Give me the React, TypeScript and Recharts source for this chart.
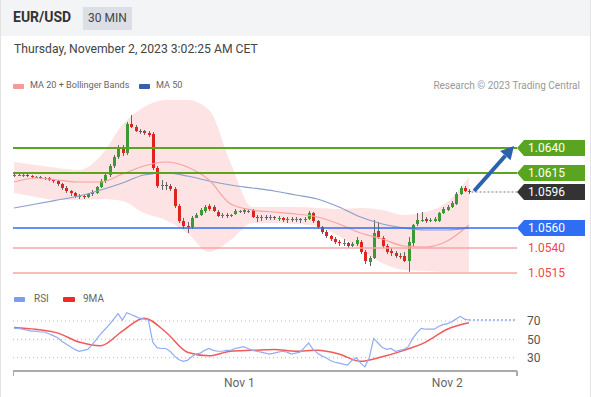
import React from 'react';
import { ComposedChart, Bar, Line, Area, XAxis, YAxis, ReferenceLine } from 'recharts';

// 30 min candles, index 0 .. 105
const candleOpen = [
  1.0613, 1.0613, 1.0613, 1.0613, 1.0612, 1.0611, 1.0611, 1.0610, 1.0610, 1.0608,
  1.0607, 1.0604, 1.0600, 1.0597, 1.0595, 1.0592, 1.0592, 1.0591, 1.0594, 1.0595,
  1.0601, 1.0607, 1.0613, 1.0622, 1.0631, 1.0640, 1.0635, 1.0664, 1.0661, 1.0657,
  1.0657, 1.0655, 1.0654, 1.0620, 1.0602, 1.0603, 1.0602, 1.0599, 1.0582, 1.0567,
  1.0562, 1.0561, 1.0570, 1.0573, 1.0577, 1.0582, 1.0581, 1.0576, 1.0573, 1.0573,
  1.0572, 1.0574, 1.0576, 1.0576, 1.0577, 1.0578, 1.0571, 1.0570, 1.0571, 1.0570,
  1.0571, 1.0570, 1.0570, 1.0568, 1.0569, 1.0568, 1.0569, 1.0568, 1.0569, 1.0575,
  1.0567, 1.0561, 1.0556, 1.0552, 1.0549, 1.0546, 1.0545, 1.0545, 1.0542, 1.0544,
  1.0546, 1.0536, 1.0526, 1.0530, 1.0557, 1.0550, 1.0542, 1.0537, 1.0535, 1.0532,
  1.0532, 1.0527, 1.0545, 1.0564, 1.0568, 1.0569, 1.0567, 1.0567, 1.0567, 1.0575,
  1.0578, 1.0581, 1.0584, 1.0594, 1.0600, 1.0597,
];
const candleHigh = [
  1.0615, 1.0614, 1.0614, 1.0614, 1.0613, 1.0612, 1.0612, 1.0611, 1.0611, 1.0609,
  1.0608, 1.0605, 1.0602, 1.0598, 1.0596, 1.0594, 1.0593, 1.0595, 1.0598, 1.0602,
  1.0609, 1.0615, 1.0624, 1.0633, 1.0643, 1.0643, 1.0666, 1.0673, 1.0663, 1.0659,
  1.0658, 1.0657, 1.0656, 1.0622, 1.0608, 1.0606, 1.0604, 1.0601, 1.0584, 1.0570,
  1.0566, 1.0572, 1.0575, 1.0580, 1.0583, 1.0584, 1.0583, 1.0578, 1.0575, 1.0575,
  1.0574, 1.0579, 1.0578, 1.0579, 1.0579, 1.0579, 1.0573, 1.0573, 1.0573, 1.0573,
  1.0572, 1.0572, 1.0571, 1.0571, 1.0571, 1.0571, 1.0570, 1.0571, 1.0577, 1.0576,
  1.0568, 1.0562, 1.0558, 1.0553, 1.0551, 1.0548, 1.0549, 1.0546, 1.0546, 1.0551,
  1.0548, 1.0538, 1.0532, 1.0568, 1.0566, 1.0552, 1.0544, 1.0540, 1.0537, 1.0535,
  1.0536, 1.0551, 1.0564, 1.0575, 1.0576, 1.0571, 1.0570, 1.0571, 1.0576, 1.0581,
  1.0583, 1.0587, 1.0596, 1.0602, 1.0602, 1.0599,
];
const candleLow = [
  1.0611, 1.0612, 1.0611, 1.0611, 1.0610, 1.0610, 1.0609, 1.0608, 1.0607, 1.0605,
  1.0602, 1.0598, 1.0595, 1.0592, 1.0590, 1.0589, 1.0589, 1.0590, 1.0592, 1.0594,
  1.0600, 1.0605, 1.0611, 1.0620, 1.0629, 1.0632, 1.0633, 1.0660, 1.0656, 1.0654,
  1.0653, 1.0651, 1.0618, 1.0600, 1.0598, 1.0598, 1.0597, 1.0580, 1.0565, 1.0559,
  1.0555, 1.0559, 1.0570, 1.0572, 1.0575, 1.0577, 1.0576, 1.0571, 1.0570, 1.0570,
  1.0571, 1.0573, 1.0575, 1.0574, 1.0575, 1.0570, 1.0566, 1.0567, 1.0568, 1.0568,
  1.0568, 1.0567, 1.0566, 1.0565, 1.0566, 1.0566, 1.0565, 1.0566, 1.0568, 1.0565,
  1.0559, 1.0554, 1.0550, 1.0547, 1.0544, 1.0542, 1.0542, 1.0540, 1.0541, 1.0542,
  1.0534, 1.0524, 1.0522, 1.0529, 1.0549, 1.0540, 1.0534, 1.0532, 1.0530, 1.0529,
  1.0526, 1.0516, 1.0542, 1.0562, 1.0566, 1.0565, 1.0566, 1.0566, 1.0566, 1.0574,
  1.0577, 1.0580, 1.0583, 1.0593, 1.0596, 1.0594,
];
const candleClose = [
  1.0613, 1.0613, 1.0613, 1.0612, 1.0611, 1.0611, 1.0610, 1.0610, 1.0608, 1.0607,
  1.0604, 1.0600, 1.0597, 1.0595, 1.0592, 1.0592, 1.0591, 1.0594, 1.0596, 1.0601,
  1.0607, 1.0613, 1.0622, 1.0631, 1.0640, 1.0635, 1.0664, 1.0661, 1.0657, 1.0656,
  1.0655, 1.0653, 1.0620, 1.0602, 1.0603, 1.0602, 1.0599, 1.0582, 1.0567, 1.0562,
  1.0561, 1.0570, 1.0573, 1.0578, 1.0581, 1.0579, 1.0577, 1.0572, 1.0573, 1.0572,
  1.0573, 1.0577, 1.0577, 1.0578, 1.0577, 1.0571, 1.0570, 1.0571, 1.0570, 1.0571,
  1.0570, 1.0570, 1.0568, 1.0569, 1.0568, 1.0569, 1.0568, 1.0569, 1.0575, 1.0567,
  1.0561, 1.0556, 1.0552, 1.0549, 1.0546, 1.0545, 1.0545, 1.0542, 1.0544, 1.0548,
  1.0536, 1.0527, 1.0530, 1.0555, 1.0551, 1.0542, 1.0536, 1.0535, 1.0532, 1.0531,
  1.0527, 1.0546, 1.0563, 1.0568, 1.0568, 1.0567, 1.0568, 1.0569, 1.0575, 1.0579,
  1.0581, 1.0585, 1.0594, 1.0600, 1.0597, 1.0596,
];

// moving averages / bands, sampled every 5 candles
const smoothIdx = [0, 5, 10, 15, 20, 25, 30, 35, 40, 45, 50, 55, 60, 65, 70, 75, 80, 85, 90, 95, 100, 105];
const ma20 = [1.0606, 1.0610, 1.0608, 1.0606, 1.0606, 1.0614, 1.0622, 1.0626, 1.0621, 1.0608, 1.0584, 1.0578, 1.0576, 1.0574, 1.0571, 1.0564, 1.0555, 1.0549, 1.0542, 1.0541, 1.0547, 1.0563];
const ma50 = [1.0580, 1.0584, 1.0588, 1.0592, 1.0598, 1.0605, 1.0613, 1.0615, 1.0612, 1.0607, 1.0603, 1.0600, 1.0597, 1.0593, 1.0589, 1.0581, 1.0571, 1.0564, 1.0560, 1.0558, 1.0558, 1.0560];
const bandUpper = [1.0626, 1.0623, 1.0620, 1.0618, 1.0632, 1.0663, 1.0681, 1.0688, 1.0688, 1.0678, 1.0625, 1.0581, 1.0581, 1.0581, 1.0580, 1.0579, 1.0580, 1.0578, 1.0573, 1.0576, 1.0586, 1.0611];
const bandLower = [1.0595, 1.0591, 1.0588, 1.0588, 1.0589, 1.0587, 1.0575, 1.0568, 1.0555, 1.0536, 1.0548, 1.0565, 1.0565, 1.0564, 1.0562, 1.0552, 1.0538, 1.0525, 1.0518, 1.0517, 1.0516, 1.0516];

const rsi = [
  62, 62, 61, 60, 59, 59, 58, 58, 56, 54,
  52, 48, 45, 42, 39, 37, 38, 39, 44, 50,
  56, 61, 66, 72, 78, 71, 79, 77, 75, 73,
  72, 71, 47, 41, 40, 40, 37, 32, 28, 26,
  27, 31, 34, 35, 38, 40, 38, 37, 37, 38,
  38, 40, 41, 42, 40, 38, 37, 36, 35, 34,
  35, 36, 37, 36, 34, 35, 36, 41, 46, 39,
  35, 32, 30, 27, 25, 24, 23, 22, 27, 30,
  24, 20, 30, 51, 46, 41, 39, 40, 37, 38,
  39, 42, 51, 57, 62, 61, 61, 61, 64, 66,
  67, 69, 72, 75, 72, 71,
];
const rsiMa9 = [63, 61, 57, 47, 43, 59, 73, 58, 36, 32, 37, 38, 39, 37, 38, 34, 26, 31, 38, 47, 61, 68];

const xDomain = [-0.25, 116.1];
const priceDomain = [1.0506, 1.069];
const rsiDomain = [15.5, 95];
const dayTicks = [52, 100];
const dayLabels = ['Nov 1', 'Nov 2'];
const rsiLevels = [70, 50, 30];

const resistances = [1.064, 1.0615];
const lastPrice = 1.0596;
const pivot = 1.056;
const supports = [1.054, 1.0515];
const arrowFrom = { x: 106.2, y: 1.0597 };
const arrowTo = { x: 115.4, y: 1.0642 };

const candles = candleOpen.map((open, i) => ({
  i,
  open,
  high: candleHigh[i],
  low: candleLow[i],
  close: candleClose[i],
  range: [candleLow[i], candleHigh[i]],
}));

const smoothRows = smoothIdx.map((i, k) => ({
  i,
  ma20: ma20[k],
  ma50: ma50[k],
  band: [bandLower[k], bandUpper[k]],
  ma9: rsiMa9[k],
}));

const rsiRows = rsi.map((v, i) => ({ i, rsi: v }));

const GREEN = '#5aa51f';
const BLUE = '#2f6ef2';
const RED = '#f04848';

const Candle = (props: any) => {
  const { x, y, width, height, payload } = props;
  const { open, close, high, low } = payload;
  const ratio = height / (high - low);
  const top = y + (high - Math.max(open, close)) * ratio;
  const bodyH = Math.max(1, Math.abs(open - close) * ratio);
  const color = close >= open ? '#3c9a34' : '#e0231f';
  const cx = Math.round(x + width / 2) + 0.5;
  return (
    <g>
      <line x1={cx} x2={cx} y1={y} y2={y + height} stroke="#666" strokeWidth={1} />
      <rect x={cx - 1.5} y={top} width={3} height={bodyH} fill={color} />
    </g>
  );
};

const PriceTag = (props: any) => {
  const { viewBox, text, fill } = props;
  const right = viewBox.x + viewBox.width;
  const cy = viewBox.y;
  const h = 8;
  return (
    <g>
      <polygon
        points={`${right},${cy} ${right + 7},${cy - h} ${right + 68},${cy - h} ${right + 68},${cy + h} ${right + 7},${cy + h}`}
        fill={fill}
      />
      <text x={right + 11} y={cy + 4} fill="#fff" fontSize={12}>{text}</text>
    </g>
  );
};

const RedTag = (props: any) => {
  const { viewBox, text } = props;
  return (
    <text x={viewBox.x + viewBox.width + 11} y={viewBox.y + 4} fill={RED} fontSize={12}>{text}</text>
  );
};

const Arrow = (props: any) => {
  const { x1, y1, x2, y2 } = props;
  const ang = Math.atan2(y2 - y1, x2 - x1);
  const len = 13;
  const half = 7;
  const bx = x2 - len * Math.cos(ang);
  const by = y2 - len * Math.sin(ang);
  const px = -Math.sin(ang) * half;
  const py = Math.cos(ang) * half;
  return (
    <g>
      <line x1={x1} y1={y1} x2={bx} y2={by} stroke="#2b61ad" strokeWidth={4} />
      <polygon points={`${x2},${y2} ${bx + px},${by + py} ${bx - px},${by - py}`} fill="#2b61ad" />
    </g>
  );
};

const DayTick = (props: any) => {
  const { x, y, payload } = props;
  const k = dayTicks.indexOf(payload.value);
  if (k >= 0) {
    return (
      <text x={x} y={y + 16} textAnchor="middle" fill="#666" fontSize={12}>{dayLabels[k]}</text>
    );
  }
  return <line x1={x} x2={x} y1={y} y2={y + 5} stroke="#aaa" strokeWidth={2} />;
};

const fmt = (v: number) => v.toFixed(4);

export default function App() {
  return (
    <div
      style={{
        position: 'absolute',
        left: 0,
        top: 0,
        width: 591,
        height: 397,
        background: '#fff',
        fontFamily: 'Roboto, "Liberation Sans", Arial, sans-serif',
        overflow: 'hidden',
        boxSizing: 'border-box',
        borderLeft: '1px solid #e3e3e3',
        borderRight: '1px solid #e3e3e3',
      }}
    >
      <div style={{ position: 'absolute', left: 0, top: 0, width: 591, height: 36, background: '#f3f4f6' }} />
      <div style={{ position: 'absolute', left: 12, top: 9, fontSize: 14, fontWeight: 700, color: '#333' }}>EUR/USD</div>
      <div
        style={{
          position: 'absolute', left: 82, top: 7, width: 49, height: 23, background: '#dcdfe5',
          fontSize: 12, color: '#444', lineHeight: '23px', textAlign: 'center',
        }}
      >
        30 MIN
      </div>
      <div style={{ position: 'absolute', left: 13, top: 42, fontSize: 12.2, color: '#444' }}>
        Thursday, November 2, 2023 3:02:25 AM CET
      </div>

      <div style={{ position: 'absolute', left: 12, top: 84, width: 11, height: 5, background: '#f59a9a', borderRadius: 1 }} />
      <div style={{ position: 'absolute', left: 29, top: 80, fontSize: 9.1, color: '#666' }}>MA 20 + Bollinger Bands</div>
      <div style={{ position: 'absolute', left: 138, top: 84, width: 11, height: 5, background: '#3a5fa8', borderRadius: 1 }} />
      <div style={{ position: 'absolute', left: 155, top: 80, fontSize: 9.1, color: '#666' }}>MA 50</div>
      <div style={{ position: 'absolute', right: 10, top: 80, fontSize: 10, color: '#999' }}>Research © 2023 Trading Central</div>

      <div style={{ position: 'absolute', left: 12, top: 98 }}>
        <ComposedChart width={579} height={184} data={candles} margin={{ top: 0, right: 75, bottom: 0, left: 0 }}>
          <XAxis type="number" dataKey="i" domain={xDomain} hide allowDataOverflow />
          <YAxis type="number" domain={priceDomain} hide allowDataOverflow />
          <Area data={smoothRows} dataKey="band" type="monotone" fill="#fcdcdc" fillOpacity={0.8} stroke="none" isAnimationActive={false} />
          <Line data={smoothRows} dataKey="ma50" type="monotone" stroke="#8a9fcc" strokeWidth={1.2} dot={false} isAnimationActive={false} />
          <Line data={smoothRows} dataKey="ma20" type="monotone" stroke="#f7a3a3" strokeWidth={1.2} dot={false} isAnimationActive={false} />
          {supports.map((v) => (
            <ReferenceLine key={v} y={v} stroke="#f7a5a5" strokeWidth={1.5} label={<RedTag text={fmt(v)} />} />
          ))}
          <ReferenceLine y={pivot} stroke={BLUE} strokeWidth={1.5} label={<PriceTag text={fmt(pivot)} fill={BLUE} />} />
          {resistances.map((v) => (
            <ReferenceLine key={v} y={v} stroke={GREEN} strokeWidth={2} label={<PriceTag text={fmt(v)} fill={GREEN} />} />
          ))}
          <Bar dataKey="range" barSize={3} shape={<Candle />} isAnimationActive={false} />
          <ReferenceLine
            segment={[{ x: 105.6, y: lastPrice }, { x: xDomain[1], y: lastPrice }]}
            stroke="#777"
            strokeDasharray="2 2"
            label={<PriceTag text={fmt(lastPrice)} fill="#333" />}
          />
          <ReferenceLine segment={[arrowFrom, arrowTo]} shape={<Arrow />} />
        </ComposedChart>
      </div>

      <div style={{ position: 'absolute', left: 13, top: 297, width: 11, height: 5, background: '#7b9cf0', borderRadius: 1 }} />
      <div style={{ position: 'absolute', left: 33, top: 293, fontSize: 10, color: '#666' }}>RSI</div>
      <div style={{ position: 'absolute', left: 62, top: 297, width: 12, height: 5, background: '#f02a2a', borderRadius: 1 }} />
      <div style={{ position: 'absolute', left: 82, top: 293, fontSize: 10, color: '#666' }}>9MA</div>

      <div style={{ position: 'absolute', left: 12, top: 298 }}>
        <ComposedChart width={579} height={98} data={rsiRows} margin={{ top: 0, right: 75, bottom: 0, left: 0 }}>
          <XAxis
            type="number"
            dataKey="i"
            domain={xDomain}
            allowDataOverflow
            ticks={[xDomain[0], ...dayTicks, xDomain[1]]}
            interval={0}
            height={25}
            tickSize={0}
            tickMargin={0}
            tickLine={false}
            axisLine={{ stroke: '#aaa', strokeWidth: 2 }}
            tick={<DayTick />}
          />
          <YAxis type="number" domain={rsiDomain} hide allowDataOverflow />
          {rsiLevels.map((v) => (
            <ReferenceLine
              key={v}
              y={v}
              stroke="#bbb"
              strokeDasharray="1 3"
              label={{ value: String(v), position: 'right', offset: 10, fill: '#555', fontSize: 12 }}
            />
          ))}
          <ReferenceLine
            segment={[{ x: 105, y: rsi[rsi.length - 1] }, { x: xDomain[1], y: rsi[rsi.length - 1] }]}
            stroke="#a9bdf3"
            strokeWidth={2}
            strokeDasharray="2 2"
          />
          <Line data={smoothRows} dataKey="ma9" type="monotone" stroke="#f05a5a" strokeWidth={1.5} dot={false} isAnimationActive={false} />
          <Line dataKey="rsi" type="linear" stroke="#93acf2" strokeWidth={1.2} dot={false} isAnimationActive={false} />
        </ComposedChart>
      </div>
    </div>
  );
}
